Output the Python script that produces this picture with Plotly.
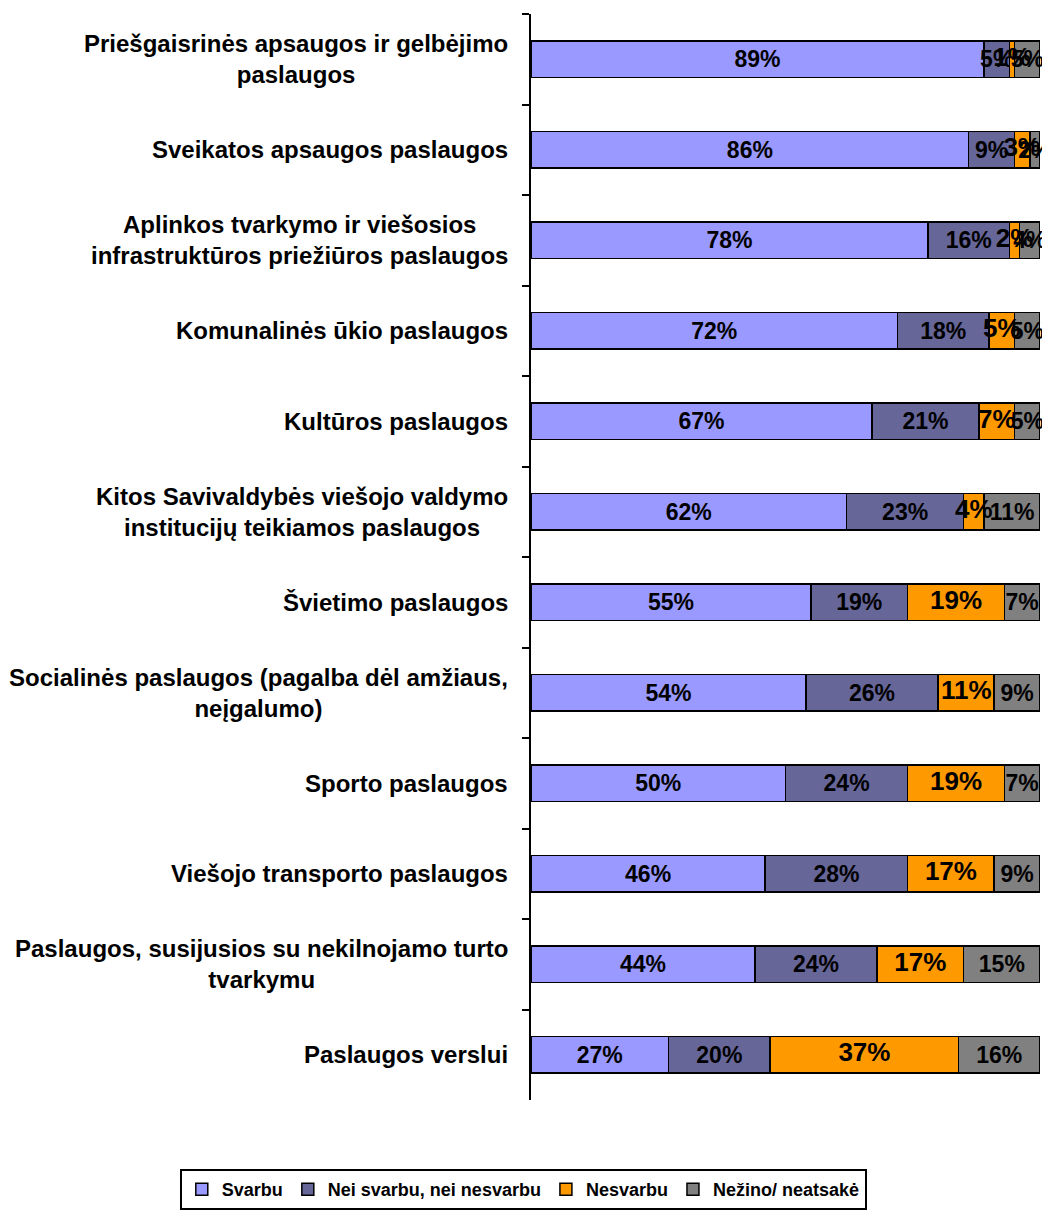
import plotly.graph_objects as go

categories = [
    "Priešgaisrinės apsaugos ir gelbėjimo<br>paslaugos",
    "Sveikatos apsaugos paslaugos",
    "Aplinkos tvarkymo ir viešosios<br>infrastruktūros priežiūros paslaugos",
    "Komunalinės ūkio paslaugos",
    "Kultūros paslaugos",
    "Kitos Savivaldybės viešojo valdymo<br>institucijų teikiamos paslaugos",
    "Švietimo paslaugos",
    "Socialinės paslaugos (pagalba dėl amžiaus,<br>neįgalumo)",
    "Sporto paslaugos",
    "Viešojo transporto paslaugos",
    "Paslaugos, susijusios su nekilnojamo turto<br>tvarkymu",
    "Paslaugos verslui",
]
svarbu = [89, 86, 78, 72, 67, 62, 55, 54, 50, 46, 44, 27]
nei = [5, 9, 16, 18, 21, 23, 19, 26, 24, 28, 24, 20]
nesvarbu = [1, 3, 2, 5, 7, 4, 19, 11, 19, 17, 17, 37]
nezino = [5, 2, 4, 5, 5, 11, 7, 9, 7, 9, 15, 16]

series_names = ["Svarbu", "Nei svarbu, nei nesvarbu", "Nesvarbu", "Nežino/ neatsakė"]
series_values = [svarbu, nei, nesvarbu, nezino]
colors = ["#9999FF", "#666699", "#FF9900", "#808080"]

FONT = "Liberation Sans, Arial, sans-serif"

fig = go.Figure()
for i, (name, vals, col) in enumerate(zip(series_names, series_values, colors)):
    is_orange = (i == 2)
    fig.add_trace(go.Bar(
        y=categories, x=vals, name=f"<b>{name}</b>", orientation="h",
        marker=dict(color=col, line=dict(color="black", width=1.5)),
        text=[f"<b>{v}%</b>" for v in vals],
        textposition="none" if is_orange else "inside",
        insidetextanchor="middle", textangle=0,
        textfont=dict(family=FONT, size=23, color="black"),
        cliponaxis=False,
    ))

# larger labels for the "Nesvarbu" segments, centred on each segment
orange_mid = [a + b + c / 2 for a, b, c in zip(svarbu, nei, nesvarbu)]
fig.add_trace(go.Scatter(
    y=categories, x=orange_mid, mode="text",
    text=[f"<b>{v}%</b>" for v in nesvarbu],
    textposition="middle center",
    textfont=dict(family=FONT, size=26, color="black"),
    showlegend=False, hoverinfo="skip", cliponaxis=False,
))

for c in categories:
    fig.add_annotation(
        x=0, xref="paper", y=c, yref="y", xanchor="right", yanchor="middle",
        xshift=-21, align="center", showarrow=False,
        text=f"<b>{c}</b>", font=dict(family=FONT, size=24, color="black"),
    )

fig.update_layout(
    width=1050, height=1211,
    margin=dict(l=523, r=18, t=6, b=119, autoexpand=False),
    barmode="stack", bargap=0.6,
    plot_bgcolor="white", paper_bgcolor="white",
    uniformtext=dict(minsize=23, mode="show"),
    xaxis=dict(range=[0, 100], visible=False),
    yaxis=dict(
        type="category", categoryorder="array", categoryarray=categories,
        range=[11.5, -0.5], showticklabels=False,
        showline=True, linecolor="black", linewidth=2,
        ticks="outside", tickson="boundaries", ticklen=7, tickwidth=2, tickcolor="black",
        showgrid=False, zeroline=False,
    ),
    legend=dict(
        orientation="h", traceorder="normal",
        xref="paper", x=-0.69, xanchor="left",
        yref="paper", y=-0.0635, yanchor="top",
        bordercolor="black", borderwidth=2,
        font=dict(family=FONT, size=18, color="black"),
        itemwidth=30, tracegroupgap=0,
    ),
    showlegend=True,
)

fig.write_html("out.html")
